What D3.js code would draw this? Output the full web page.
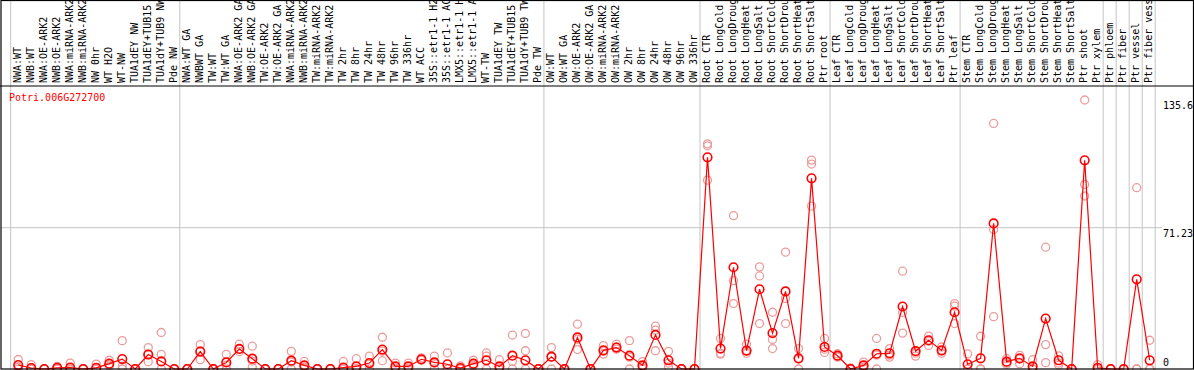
<!DOCTYPE html>
<html>
<head>
<meta charset="utf-8">
<script src="https://cdn.jsdelivr.net/npm/d3@7"></script>
<style>
body{margin:0;background:#fff}
svg{display:block}
text{font-family:"DejaVu Sans Mono",monospace;font-size:10px}
</style>
</head>
<body>
<svg></svg>
<script>
const geneName = "Potri.006G272700"

// sample names, left to right
const sampleLabels = [
 "NWA:WT","NWB:WT","NWA:OE-ARK2","NWB:OE-ARK2","NWA:miRNA-ARK2","NWB:miRNA-ARK2","NW 0hr","WT H2O","WT-NW","TUA1dEY NW","TUA1dEY+TUB15 NW","TUA1dY+TUB9 NW","Pde NW",
 "NWA:WT GA","NWBWT GA","TW:WT","TW:WT GA","NWA:OE-ARK2 GA","NWB:OE-ARK2 GA","TW:OE-ARK2","TW:OE-ARK2 GA","NWA:miRNA-ARK2 GA","NWB:miRNA-ARK2 GA","TW:miRNA-ARK2","TW:miRNA-ARK2 GA",
 "TW 2hr","TW 8hr","TW 24hr","TW 48hr","TW 96hr","TW 336hr","WT ACC","35S::etr1-1 H2O","35S::etr1-1 ACC","LMX5::etr1-1 H2O","LMX5::etr1-1 ACC","WT-TW","TUA1dEY TW","TUA1dEY+TUB15 TW","TUA1dY+TUB9 TW","Pde TW",
 "OW:WT","OW:WT GA","OW:OE-ARK2","OW:OE-ARK2 GA","OW:miRNA-ARK2","OW:miRNA-ARK2 GA","OW 2hr","OW 8hr","OW 24hr","OW 48hr","OW 96hr","OW 336hr",
 "Root CTR","Root LongCold","Root LongDrought","Root LongHeat","Root LongSalt","Root ShortCold","Root ShortDrought","Root ShortHeat","Root ShortSalt","Ptr root",
 "Leaf CTR","Leaf LongCold","Leaf LongDrought","Leaf LongHeat","Leaf LongSalt","Leaf ShortCold","Leaf ShortDrought","Leaf ShortHeat","Leaf ShortSalt","Ptr leaf",
 "Stem CTR","Stem LongCold","Stem LongDrought","Stem LongHeat","Stem LongSalt","Stem ShortCold","Stem ShortDrought","Stem ShortHeat","Stem ShortSalt","Ptr shoot","Ptr xylem",
 "Ptr phloem","Ptr fiber","Ptr vessel","Ptr fiber vessel"
]
// how many samples in each experiment block (separated by grey lines)
const groupSizes = [13, 28, 12, 10, 10, 11, 1, 1, 1, 1]

// mean expression per sample
const meanValues = [
 2.0,0.5,0,0.6,0.7,0,0.6,2.7,5.0,0,7.3,3.8,0,
 0,8.8,0,3.3,10.1,5.2,0,0,4.2,1.8,0,0,0.7,1.3,3.0,9.8,1.3,1.3,4.9,3.3,2.4,0.5,2.7,4.4,1.3,6.7,4.4,0,
 6.2,0,15.9,0,9.4,10.8,6.7,1.8,17.2,4.4,0,0,
 106.7,10.3,51.3,9.3,40.2,18.1,39.1,5.4,96.1,11.1,
 6.7,0,1.8,7.7,7.9,31.5,9.0,14.5,9.4,28.6,
 2.4,5.4,73.4,3.7,5.4,1.3,25.4,4.4,0,105.2,0.6,
 0,0,45.2,4.4
]
// individual replicates
const rep1 = [
 4.8,2.2,0,1.3,3.0,0,2.5,4.4,14.3,0,10.8,18.4,0,
 0,12.3,0,7.4,12.5,11.5,0,0,8.9,3.8,0,0,3.8,5.2,6.5,16.0,3.0,3.0,5.6,6.5,8.1,1.5,4.4,8.1,4.7,17.1,17.9,0,
 10.8,0,22.6,0,11.8,12.5,14.3,3.7,21.6,8.9,0,0,
 113.5,15.4,77.3,12.5,51.5,28.6,58.9,10.3,105.3,15.4,
 7.7,0.5,3.5,15.4,10.3,49.3,6.5,16.6,11.1,33.0,
 7.6,16.5,123.8,5.2,6.9,4.7,61.4,6.6,0,135.6,2.2,
 0,0,91.4,14.5
]
const rep2 = [
 1.0,0,0,0.3,0.2,0,0,2.0,1.4,0,3.7,7.4,0,
 0,4.7,0,0,8.8,4.0,0,0,0,1.0,0,0,0,0,0,4.2,0.5,0.5,4.5,0,0,0,2.0,6.5,0,3.8,9.2,0,
 6.0,0,9.8,0,9.0,11.0,6.0,1.5,19.6,3.0,0,0,
 112.5,7.9,44.5,7.9,46.9,14.9,35.6,0,103.3,8.3,
 6.5,0,1.0,0,7.0,18.1,9.0,11.9,7.9,31.7,
 0,0,70.3,2.4,2.7,0,12.3,3.0,0,93.0,0,
 0,0,0,0
]
const rep3 = [
 0,0,0,0,0,0,0,1.5,0,0,7.5,0,0,
 0,9.0,0,2.0,10.0,1.0,0,0,3.5,0.5,0,0,0,0,2.5,9.0,0,0,4.5,3.0,0,0,1.5,0,0,0,0,0,
 0,0,15.0,0,7.5,10.0,0,0.5,9.2,1.0,0,0,
 95.2,7.5,33.0,9.0,22.9,10.3,22.9,5.0,82.1,10.0,
 6.0,0,0.5,7.0,6.0,28.5,8.0,14.0,9.0,22.9,
 0,0,26.4,3.0,5.0,0,3.2,2.0,0,87.2,0,
 0,0,0,0
]
const tickValues = [135.6, 71.23, 0]

const w = 1194
const h = 370
const headerBottom = 86.4
const plotLeft = 10.7
const plotRight = 1155.2

let svg = d3.select("svg").attr("width", w).attr("height", h)

let xScale = d3.scaleBand()
  .domain(d3.range(sampleLabels.length))
  .range([plotLeft, plotRight])
  .padding(0)
let cx = (i) => xScale(i) + xScale.bandwidth() / 2 + 1 // centre of a sample column

let yScale = d3.scaleLinear()
  .domain([0, 142.46])   // 71.23 sits half way up
  .range([369, headerBottom])

// grey separators between the experiment blocks
let bounds = [0]
groupSizes.forEach(s => bounds.push(bounds[bounds.length - 1] + s))
svg.append("g").selectAll("line")
  .data(bounds)
  .enter().append("line")
  .attr("x1", d => d === sampleLabels.length ? plotRight : xScale(d))
  .attr("x2", d => d === sampleLabels.length ? plotRight : xScale(d))
  .attr("y1", 0).attr("y2", h)
  .attr("stroke", "#c4c4c4").attr("stroke-width", 1)

// mid grid line
svg.append("line")
  .attr("x1", 1).attr("x2", 1162)
  .attr("y1", yScale(tickValues[1])).attr("y2", yScale(tickValues[1]))
  .attr("stroke", "#c4c4c4")

// rotated sample names in the header
svg.append("g").selectAll("text")
  .data(sampleLabels)
  .enter().append("text")
  .attr("transform", (d, i) => "translate(" + (cx(i) + 2.5) + ",83) rotate(-90)")
  .attr("fill", "#000")
  .text(d => d)

// value labels at the right
svg.append("g").selectAll("text")
  .data(tickValues)
  .enter().append("text")
  .attr("x", 1163)
  .attr("y", d => Math.min(yScale(d) + 9, 366))
  .attr("fill", "#000")
  .text(d => d)

svg.append("text")
  .attr("x", 9).attr("y", 101)
  .attr("fill", "#ff0000")
  .text(geneName)

// replicate points
let repPoints = []
;[rep1, rep2, rep3].forEach(arr => arr.forEach((v, i) => repPoints.push({i: i, v: v})))
svg.append("g").selectAll("circle")
  .data(repPoints)
  .enter().append("circle")
  .attr("cx", d => cx(d.i))
  .attr("cy", d => yScale(d.v))
  .attr("r", 4)
  .attr("fill", "none")
  .attr("stroke", "#eb9c9c")
  .attr("stroke-width", 1.3)

// mean line + mean points
let line = d3.line().x((d, i) => cx(i)).y(d => yScale(d))
svg.append("path")
  .datum(meanValues)
  .attr("d", line)
  .attr("fill", "none")
  .attr("stroke", "#ff0000")
  .attr("stroke-width", 1.2)

svg.append("g").selectAll("circle")
  .data(meanValues)
  .enter().append("circle")
  .attr("cx", (d, i) => cx(i))
  .attr("cy", d => yScale(d))
  .attr("r", 4.3)
  .attr("fill", "none")
  .attr("stroke", "#ff0000")
  .attr("stroke-width", 1.6)

// frame: outer border and header rule
svg.append("line").attr("x1", 0).attr("x2", w).attr("y1", headerBottom - 0.4).attr("y2", headerBottom - 0.4).attr("stroke", "#000")
svg.append("rect")
  .attr("x", 1).attr("y", 0.5)
  .attr("width", w - 1.5).attr("height", h - 1.5)
  .attr("fill", "none").attr("stroke", "#000").attr("stroke-width", 1.2)
</script>
</body>
</html>
